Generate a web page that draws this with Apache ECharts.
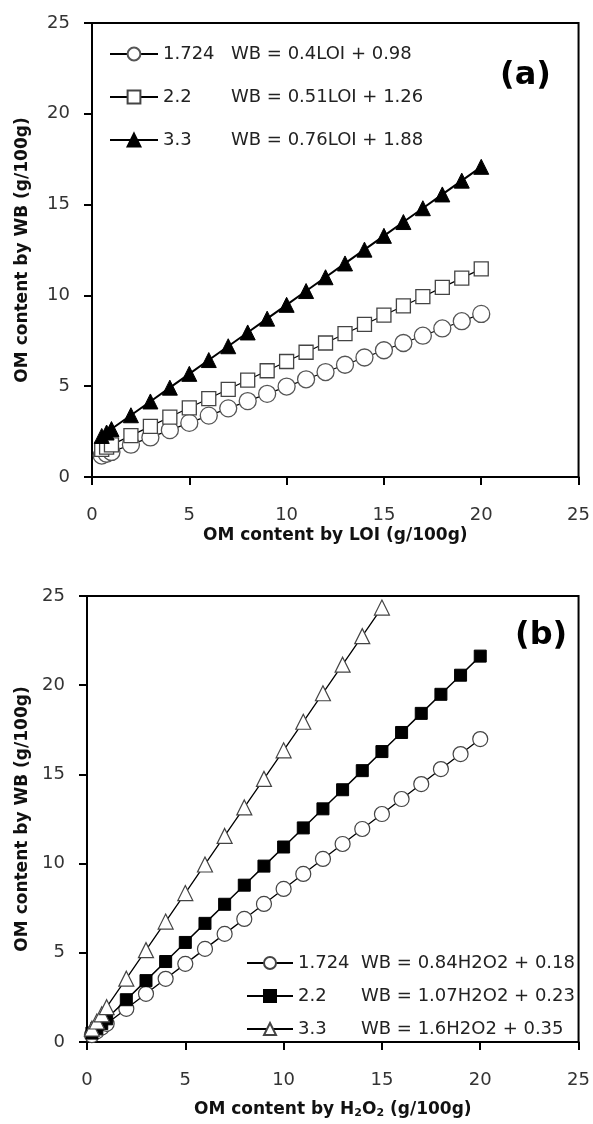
<!DOCTYPE html>
<html>
<head>
<meta charset="utf-8">
<script src="https://cdn.jsdelivr.net/npm/echarts@6/dist/echarts.min.js"></script>
<style>
  html, body { margin: 0; padding: 0; background: #fff; }
  #myChart { width: 593px; height: 1124px; }
</style>
</head>
<body>
<div id="myChart"></div>
<script>
// panel (a): WB vs LOI
var xsA = [0.5, 0.75, 1, 2, 3, 4, 5, 6, 7, 8, 9, 10, 11, 12, 13, 14, 15, 16, 17, 18, 19, 20];
var a1724 = [1.18, 1.28, 1.38, 1.78, 2.18, 2.58, 2.98, 3.38, 3.78, 4.18, 4.58, 4.98, 5.38, 5.78, 6.18, 6.58, 6.98, 7.38, 7.78, 8.18, 8.58, 8.98];
var a22 = [1.52, 1.64, 1.77, 2.28, 2.79, 3.30, 3.81, 4.32, 4.83, 5.34, 5.85, 6.36, 6.87, 7.38, 7.89, 8.40, 8.91, 9.42, 9.93, 10.44, 10.95, 11.46];
var a33 = [2.26, 2.45, 2.64, 3.40, 4.16, 4.92, 5.68, 6.44, 7.20, 7.96, 8.72, 9.48, 10.24, 11.00, 11.76, 12.52, 13.28, 14.04, 14.80, 15.56, 16.32, 17.08];

// panel (b): WB vs H2O2
var xsB = [0.25, 0.5, 0.75, 1, 2, 3, 4, 5, 6, 7, 8, 9, 10, 11, 12, 13, 14, 15, 16, 17, 18, 19, 20];
var b1724 = [0.39, 0.60, 0.81, 1.02, 1.86, 2.70, 3.54, 4.38, 5.22, 6.06, 6.90, 7.74, 8.58, 9.42, 10.26, 11.10, 11.94, 12.78, 13.62, 14.46, 15.30, 16.14, 16.98];
var b22 = [0.50, 0.77, 1.03, 1.30, 2.37, 3.44, 4.51, 5.58, 6.65, 7.72, 8.79, 9.86, 10.93, 12.00, 13.07, 14.14, 15.21, 16.28, 17.35, 18.42, 19.49, 20.56, 21.63];
var xsB33 = [0.25, 0.5, 0.75, 1, 2, 3, 4, 5, 6, 7, 8, 9, 10, 11, 12, 13, 14, 15];
var b33 = [0.75, 1.15, 1.55, 1.95, 3.55, 5.15, 6.75, 8.35, 9.95, 11.55, 13.15, 14.75, 16.35, 17.95, 19.55, 21.15, 22.75, 24.35];

var factors = ["1.724", "2.2", "3.3"];
var eqA = ["WB = 0.4LOI + 0.98", "WB = 0.51LOI + 1.26", "WB = 0.76LOI + 1.88"];
var eqB = ["WB = 0.84H2O2 + 0.18", "WB = 1.07H2O2 + 0.23", "WB = 1.6H2O2 + 0.35"];

function pairs(xs, ys) {
  return ys.map(function (y, i) { return [xs[i], y]; });
}

var FONT = "DejaVu Sans";
var labelMap = {};
factors.forEach(function (f, i) {
  labelMap["a" + f] = "{f|" + f + "}{e|" + eqA[i] + "}";
  labelMap["b" + f] = "{g|" + f + "}{e|" + eqB[i] + "}";
});

function xAxisOf(idx, name, gap) {
  return {
    type: "value", gridIndex: idx, min: 0, max: 25, interval: 5,
    name: name, nameLocation: "middle", nameGap: gap,
    nameTextStyle: {
      fontFamily: FONT, fontWeight: "bold", fontSize: 17, color: "#111",
      rich: {
        t: { fontFamily: FONT, fontWeight: "bold", fontSize: 17, color: "#111" },
        s: { fontFamily: FONT, fontWeight: "bold", fontSize: 11, color: "#111", padding: [8, 0, 0, 0] }
      }
    },
    axisLine: { onZero: false, lineStyle: { color: "#000", width: 2 } },
    axisTick: { show: true, inside: false, length: 8, lineStyle: { color: "#000", width: 2 } },
    axisLabel: { margin: 29, fontFamily: FONT, fontSize: 18, color: "#333" },
    splitLine: { show: false }
  };
}
function yAxisOf(idx, gap) {
  return {
    type: "value", gridIndex: idx, min: 0, max: 25, interval: 5,
    name: "OM content by WB (g/100g)", nameLocation: "middle", nameGap: gap,
    nameTextStyle: { fontFamily: FONT, fontWeight: "bold", fontSize: 17, color: "#111" },
    axisLine: { onZero: false, lineStyle: { color: "#000", width: 2 } },
    axisTick: { show: true, inside: false, length: 8, lineStyle: { color: "#000", width: 2 } },
    axisLabel: { margin: 22, fontFamily: FONT, fontSize: 18, color: "#333" },
    splitLine: { show: false }
  };
}

var legendRich = {
  f: { fontFamily: FONT, fontSize: 18, lineHeight: 18, color: "#222", width: 68 },
  g: { fontFamily: FONT, fontSize: 18, lineHeight: 18, color: "#222", width: 63 },
  e: { fontFamily: FONT, fontSize: 18, lineHeight: 18, color: "#222" }
};

var myChart = echarts.init(document.getElementById("myChart"));
var option = {
  backgroundColor: "#fff",
  animation: false,
  title: [
    { text: "(a)", left: 495, top: 55, textStyle: { fontFamily: FONT, fontWeight: "bold", fontSize: 32, color: "#000" } },
    { text: "(b)", left: 510, top: 615, textStyle: { fontFamily: FONT, fontWeight: "bold", fontSize: 32, color: "#000" } }
  ],
  grid: [
    { left: 92, top: 23, width: 488, height: 454, show: true, borderColor: "#000", borderWidth: 2 },
    { left: 87, top: 596, width: 493, height: 446, show: true, borderColor: "#000", borderWidth: 2 }
  ],
  legend: [
    {
      data: factors.map(function (f) { return "a" + f; }),
      orient: "vertical", left: 104, top: 40, itemWidth: 48, itemHeight: 16, itemGap: 25,
      formatter: function (n) { return labelMap[n]; },
      textStyle: { rich: legendRich }
    },
    {
      data: factors.map(function (f) { return "b" + f; }),
      orient: "vertical", left: 241, top: 949, itemWidth: 46, itemHeight: 15, itemGap: 15,
      formatter: function (n) { return labelMap[n]; },
      textStyle: { rich: legendRich }
    }
  ],
  xAxis: [
    xAxisOf(0, "OM content by LOI (g/100g)", 50),
    xAxisOf(1, "{t|OM content by H}{s|2}{t|O}{s|2}{t| (g/100g)}", 58)
  ],
  yAxis: [yAxisOf(0, 61), yAxisOf(1, 56)],
  series: [
    {
      name: "a1.724", type: "line", xAxisIndex: 0, yAxisIndex: 0, data: pairs(xsA, a1724),
      symbol: "circle", symbolSize: 17,
      itemStyle: { color: "#fff", borderColor: "#555", borderWidth: 1.3 },
      lineStyle: { color: "#000", width: 1.2 }, z: 2
    },
    {
      name: "a2.2", type: "line", xAxisIndex: 0, yAxisIndex: 0, data: pairs(xsA, a22),
      symbol: "rect", symbolSize: 14,
      itemStyle: { color: "#fff", borderColor: "#444", borderWidth: 1.3 },
      lineStyle: { color: "#000", width: 1.2 }, z: 3
    },
    {
      name: "a3.3", type: "line", xAxisIndex: 0, yAxisIndex: 0, data: pairs(xsA, a33),
      symbol: "triangle", symbolSize: 15,
      itemStyle: { color: "#000", borderColor: "#000", borderWidth: 1 },
      lineStyle: { color: "#000", width: 2 }, z: 4
    },
    {
      name: "b1.724", type: "line", xAxisIndex: 1, yAxisIndex: 1, data: pairs(xsB, b1724),
      symbol: "circle", symbolSize: 15,
      itemStyle: { color: "#fff", borderColor: "#444", borderWidth: 1.2 },
      lineStyle: { color: "#000", width: 1.3 }, z: 2
    },
    {
      name: "b2.2", type: "line", xAxisIndex: 1, yAxisIndex: 1, data: pairs(xsB, b22),
      symbol: "rect", symbolSize: 12,
      itemStyle: { color: "#000", borderColor: "#000", borderWidth: 1 },
      lineStyle: { color: "#000", width: 1.5 }, z: 3
    },
    {
      name: "b3.3", type: "line", xAxisIndex: 1, yAxisIndex: 1, data: pairs(xsB33, b33),
      symbol: "triangle", symbolSize: 15,
      itemStyle: { color: "#fff", borderColor: "#444", borderWidth: 1.2 },
      lineStyle: { color: "#000", width: 1.3 }, z: 4
    }
  ]
};
window.onresize = myChart.resize;
myChart.setOption(option);
</script>
</body>
</html>
